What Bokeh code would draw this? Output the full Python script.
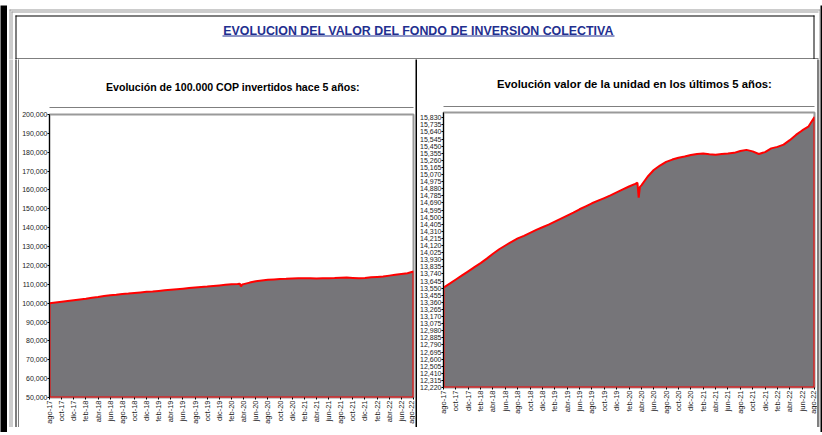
import math
from bokeh.plotting import figure
from bokeh.layouts import column, row
from bokeh.models import Range1d, FixedTicker, NumeralTickFormatter
from bokeh.core.properties import value
from bokeh.embed import file_html
from bokeh.resources import INLINE

# ---------------- data ----------------
TITLE = "EVOLUCION DEL VALOR DEL FONDO DE INVERSION COLECTIVA"
LEFT_HEADER = "Evolución de 100.000 COP invertidos hace 5 años:"
RIGHT_HEADER = "Evolución valor de la unidad en  los últimos 5 años:"

fechas = [
    "2017-08-01", "2017-09-01", "2017-10-01", "2017-11-01", "2017-12-01",
    "2018-01-01", "2018-02-01", "2018-03-01", "2018-04-01", "2018-05-01", "2018-06-01",
    "2018-07-01", "2018-08-01", "2018-09-01", "2018-10-01", "2018-11-01", "2018-12-01",
    "2019-01-01", "2019-02-01", "2019-03-01", "2019-04-01", "2019-05-01", "2019-06-01",
    "2019-07-01", "2019-08-01", "2019-09-01", "2019-10-01", "2019-11-01", "2019-12-01",
    "2020-01-01", "2020-02-01", "2020-03-01", "2020-03-12", "2020-03-18", "2020-03-24",
    "2020-04-01", "2020-05-01", "2020-06-01", "2020-07-01", "2020-08-01", "2020-09-01",
    "2020-10-01", "2020-11-01", "2020-12-01",
    "2021-01-01", "2021-02-01", "2021-03-01", "2021-04-01", "2021-05-01", "2021-06-01",
    "2021-07-01", "2021-08-01", "2021-09-01", "2021-10-01", "2021-11-01", "2021-12-01",
    "2022-01-01", "2022-02-01", "2022-03-01", "2022-04-01", "2022-05-01", "2022-06-01",
    "2022-07-01", "2022-08-01",
]

valor_100k = [
    100000, 100400, 100800, 101200, 101600,
    102000, 102400, 102900, 103300, 103800, 104200,
    104500, 104900, 105100, 105400, 105700, 106000,
    106200, 106500, 106800, 107100, 107400, 107700,
    108000, 108300, 108600, 108800, 109100, 109400,
    109700, 110000, 110200, 110300, 108900, 109900,
    110100, 110900, 111600, 112000, 112400, 112600,
    112800, 112900, 113100,
    113200, 113200, 113200, 113100, 113200, 113200,
    113300, 113500, 113600, 113400, 113200, 113400,
    113700, 113900, 114100, 114600, 115100, 115500,
    115900, 116800,
]

valor_unidad = [
    13557, 13610, 13665, 13720, 13775,
    13830, 13885, 13945, 14010, 14070, 14120,
    14170, 14215, 14250, 14290, 14330, 14365,
    14400, 14440, 14480, 14520, 14560, 14605,
    14645, 14685, 14720, 14755, 14790, 14830,
    14870, 14910, 14945, 14960, 14760, 14905,
    14925, 15040, 15130, 15190, 15240, 15270,
    15295, 15310, 15330,
    15345, 15350, 15340, 15335, 15345, 15350,
    15360, 15385, 15400, 15380, 15345, 15370,
    15420, 15440, 15470, 15530, 15600, 15660,
    15710, 15840,
]

x_labels = [
    "ago-17", "oct-17", "dic-17", "feb-18", "abr-18", "jun-18", "ago-18", "oct-18",
    "dic-18", "feb-19", "abr-19", "jun-19", "ago-19", "oct-19", "dic-19", "feb-20",
    "abr-20", "jun-20", "ago-20", "oct-20", "dic-20", "feb-21", "abr-21", "jun-21",
    "ago-21", "oct-21", "dic-21", "feb-22", "abr-22", "jun-22", "ago-22",
]

left_y_ticks = list(range(50000, 200001, 10000))
left_y_range = (50000, 200000)
right_y_ticks = list(range(12220, 15831, 95))
right_y_range = (12220, 15900)

# ---------------- helpers ----------------
AREA_GREY = "#767579"
RED = "#ff0000"
FRAME_GREY = "#9a9a9a"
NAVY = "#1f2f8f"
LABEL_COLOR = "#1a1a1a"


def month_pos(s):
    y, m, d = (int(t) for t in s.split("-"))
    return (y - 2017) * 12 + (m - 8) + (d - 1) / 30.0


xs = [month_pos(f) for f in fechas]
tick_pos = [2 * i for i in range(len(x_labels))]


def deco(w, h, bg="white"):
    p = figure(width=w, height=h, x_range=Range1d(0, w), y_range=Range1d(h, 0),
               x_axis_type=None, y_axis_type=None, toolbar_location=None, tools="",
               output_backend="svg", min_border=0, title=None)
    p.outline_line_color = None
    p.background_fill_color = bg
    p.border_fill_color = bg
    return p


def boxes(p, rects, color):
    p.quad(left=[r[0] for r in rects], right=[r[1] for r in rects],
           top=[r[2] for r in rects], bottom=[r[3] for r in rects],
           fill_color=color, line_color=None)


def label(p, x, y, txt, size, color="black", font="Liberation Sans"):
    p.text(x=[x], y=[y], text=[txt], text_font=value(font), text_font_style="bold",
           text_font_size=size, text_color=color, text_align="center",
           text_baseline="middle")


def chart(w, h, mb, yvals, yr, yticks):
    p = figure(width=w, height=h, x_range=Range1d(0, 60), y_range=Range1d(*yr),
               toolbar_location=None, tools="", output_backend="svg", title=None,
               min_border_left=mb[0], min_border_right=mb[1],
               min_border_top=mb[2], min_border_bottom=mb[3])
    p.grid.visible = False
    p.background_fill_color = "white"
    p.border_fill_color = "white"
    p.outline_line_color = FRAME_GREY
    p.outline_line_width = 2
    px = xs + [xs[-1], xs[0]]
    py = list(yvals) + [yr[0], yr[0]]
    p.patch(px, py, fill_color=AREA_GREY, line_color=RED, line_width=2)

    ya = p.yaxis[0]
    ya.ticker = FixedTicker(ticks=yticks)
    ya.formatter = NumeralTickFormatter(format="0,0")
    ya.major_label_text_font = "Liberation Sans"
    ya.major_label_text_font_size = "7px"
    ya.major_label_text_color = LABEL_COLOR
    ya.major_label_standoff = 0
    ya.major_tick_out = 2
    ya.major_tick_in = 0
    ya.minor_tick_out = 0
    ya.minor_tick_in = 0
    ya.axis_line_color = "black"

    xa = p.xaxis[0]
    xa.ticker = FixedTicker(ticks=tick_pos)
    xa.major_label_overrides = {t: l for t, l in zip(tick_pos, x_labels)}
    xa.major_label_orientation = math.pi / 2
    xa.major_label_text_font = "Liberation Sans"
    xa.major_label_text_font_size = "7.5px"
    xa.major_label_text_color = LABEL_COLOR
    xa.major_label_standoff = 1
    xa.major_tick_out = 2
    xa.major_tick_in = 0
    xa.minor_tick_out = 0
    xa.minor_tick_in = 0
    xa.axis_line_color = None
    return p


# ---------------- layout pieces ----------------
W = 822
H = 435
BL, BR, BT, BB = 7, 2, 5, 3          # outer black frame thickness
CW = W - BL - BR                      # 813
CH = H - BT - BB                      # 427
TH = 54
MH = 368
BH = CH - TH - MH                     # 5

# title band
top = deco(CW, TH)
boxes(top, [(2, CW, 4, 5), (4, CW - 2, 6, 7), (2, 3, 4, TH + 2), (4, 5, 6, TH + 2),
            (CW - 1, CW, 4, TH + 2)], FRAME_GREY)
boxes(top, [(8, 807, 10, 11), (8, 9, 10, TH + 2), (806, 807, 10, TH + 2),
            (8, 811, 53, 54)], "black")
label(top, 411, 25.5, TITLE, "12.4px", NAVY)
boxes(top, [(215, 607, 30, 31)], NAVY)

# left strip
sl = deco(12, MH)
boxes(sl, [(8, 9, -2, MH + 2), (11, 12, -2, MH + 2)], "black")
boxes(sl, [(2, 3, -2, MH + 2), (4, 5, -2, MH + 2)], FRAME_GREY)

lh = deco(396, 49)
label(lh, 199.5, 27, LEFT_HEADER, "10.6px")
boxes(lh, [(-2, 398, 48, 49)], "black")

lc = chart(396, 319, (28, 2, 6, 30), valor_100k, left_y_range, left_y_ticks)

sm = deco(2, MH, bg="black")

rh = deco(400, 48)
label(rh, 207.5, 24, RIGHT_HEADER, "11.3px")
boxes(rh, [(-2, 402, 47, 48)], "black")

rc = chart(400, 320, (24, 3, 5, 40), valor_unidad, right_y_range, right_y_ticks)

sr = deco(3, MH)
boxes(sr, [(-2, 1, -2, MH + 2)], "black")
boxes(sr, [(2, 3, -2, MH + 2)], FRAME_GREY)

bot = deco(CW, BH)
boxes(bot, [(8, 811, 0, 1), (8, 9, -2, 1), (11, 12, -2, 1)], "black")
boxes(bot, [(2, CW, 3, 4), (2, 3, -2, 4), (4, 5, -2, 2), (CW - 1, CW, -2, 4)],
      FRAME_GREY)

content = column(
    top,
    row(sl, column(lh, lc), sm, column(rh, rc), sr),
    bot,
)

black_top = deco(W, BT, bg="black")
black_bottom = deco(W, BB, bg="black")
black_left = deco(BL, CH, bg="black")
black_right = deco(BR, CH, bg="black")

layout = column(black_top, row(black_left, content, black_right), black_bottom)

open("out.html", "w").write(file_html(layout, INLINE))
